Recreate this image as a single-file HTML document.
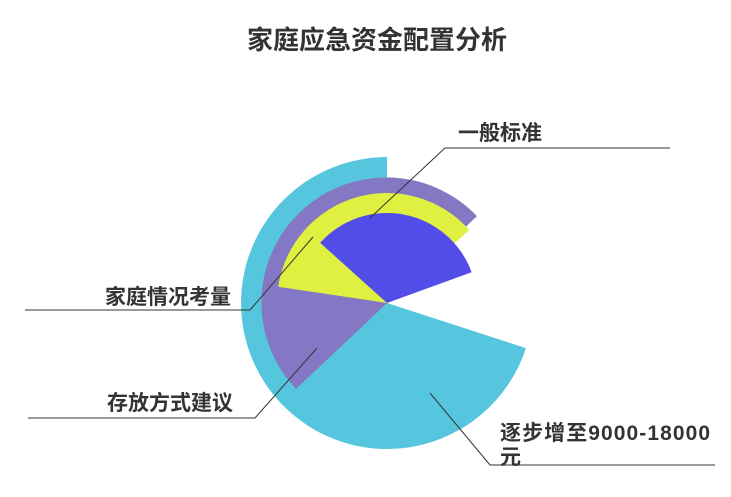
<!DOCTYPE html>
<html><head><meta charset="utf-8"><style>
html,body{margin:0;padding:0;background:#fff;}
svg{display:block;font-family:"Liberation Sans","Noto Sans CJK SC",sans-serif;}
</style></head><body>
<svg width="731" height="497" viewBox="0 0 731 497" xmlns="http://www.w3.org/2000/svg">
<text x="377" y="49" text-anchor="middle" font-size="26" font-weight="bold" fill="#333">家庭应急资金配置分析</text>
<path d="M387 303 L525.9 348.1 A146 146 0 1 1 387 157 Z" fill="#56c5de"/>
<path d="M387 303 L296.1 388.9 A125 125 0 0 1 476.9 216.1 Z" fill="#8477c3"/>
<path d="M387 303 L278.2 286.7 A110 110 0 0 1 469.3 230.0 Z" fill="#e0f040"/>
<path d="M387 303 L320.1 242.8 A90 90 0 0 1 471.6 272.2 Z" fill="#524de8"/>
<g fill="none" stroke="#333" stroke-width="1">
<polyline points="670,148 445,148 370,218"/>
<polyline points="25,310 250,310 313,237"/>
<polyline points="28,418 255,418 317,348"/>
<polyline points="430,393 490,465 715,465"/>
</g>
<g font-size="21" font-weight="bold" fill="#333">
<text x="458" y="140">一般标准</text>
<text x="105" y="304">家庭情况考量</text>
<text x="107" y="410">存放方式建议</text>
<text x="500" y="440" textLength="210" lengthAdjust="spacing">逐步增至9000-18000</text>
<text x="500" y="464">元</text>
</g>
</svg>
</body></html>
